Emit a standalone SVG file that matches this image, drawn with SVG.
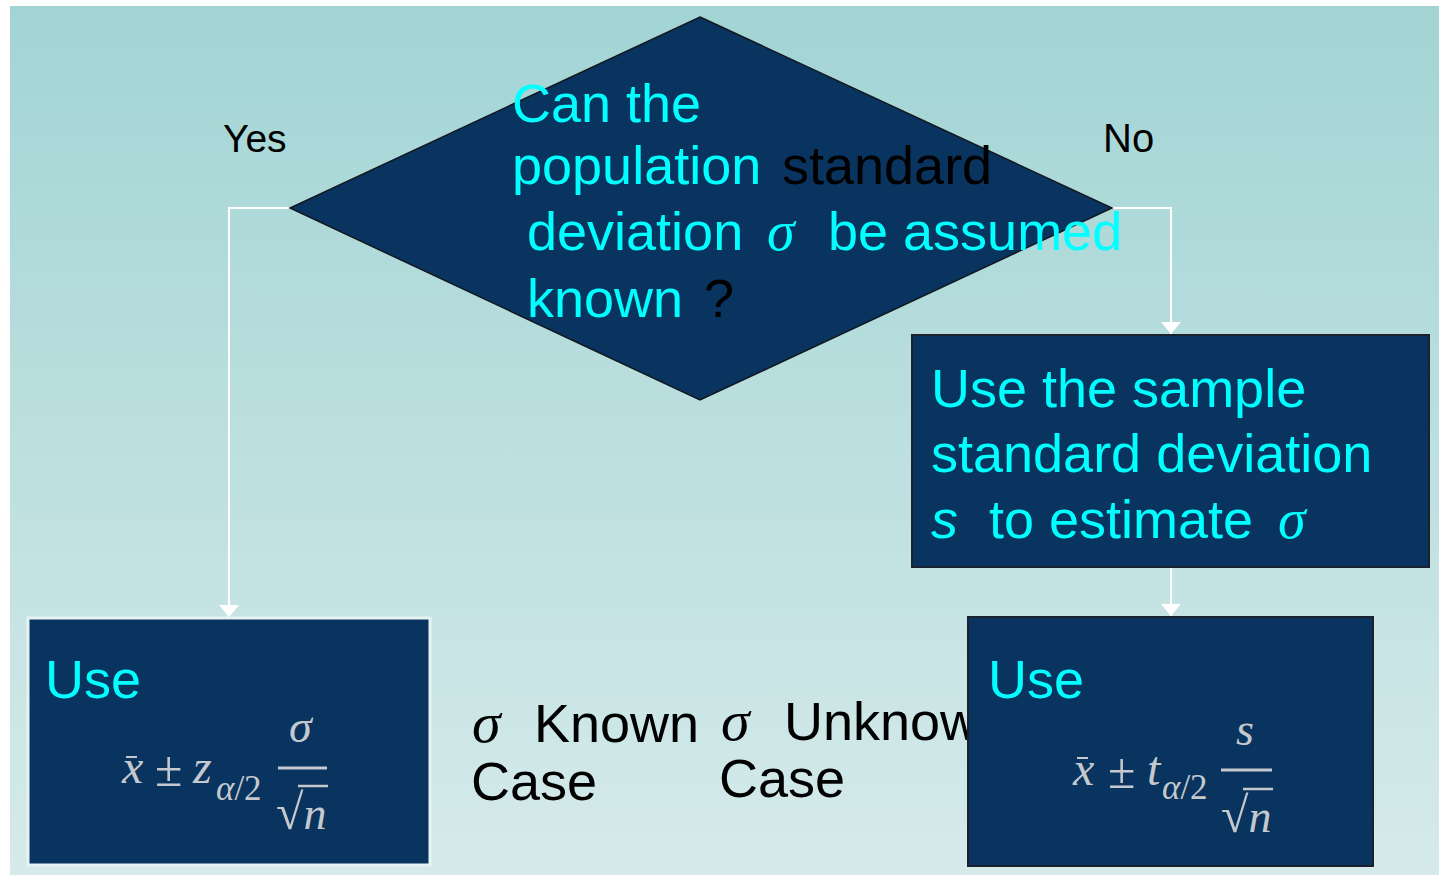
<svg xmlns="http://www.w3.org/2000/svg" width="1439" height="875" viewBox="0 0 1439 875">
  <defs>
    <linearGradient id="bg" x1="0" y1="0" x2="0" y2="1">
      <stop offset="0" stop-color="#a2d4d4"/>
      <stop offset="1" stop-color="#d6eaea"/>
    </linearGradient>
    <marker id="arrow" viewBox="0 0 12 20" refX="12" refY="10" markerWidth="12" markerHeight="20" markerUnits="userSpaceOnUse" orient="auto">
      <path d="M0,0 L12,10 L0,20 Z" fill="#ffffff"/>
    </marker>
    <style>
      .node { fill: #08345f; }
      .dark { stroke: #1a2230; stroke-width: 2; }
      .light { stroke: #e6f3f3; stroke-width: 3; }
      .cyan { fill: #00ffff; font-family: "Liberation Sans", Arial, sans-serif; font-size: 54px; }
      .lbl { fill: #000000; font-family: "Liberation Sans", Arial, sans-serif; }
      .sig { font-family: "Liberation Serif", "Times New Roman", serif; font-style: italic; }
      .math { fill: #c5c9cd; font-family: "Liberation Serif", "Times New Roman", serif; }
      .it { font-style: italic; }
      .conn { fill: none; stroke: #ffffff; stroke-width: 2; }
      .mline { stroke: #c5c9cd; }
    </style>
  </defs>

  <rect x="0" y="0" width="1439" height="875" fill="#ffffff"/>
  <rect x="10" y="6" width="1429" height="869" fill="url(#bg)"/>

  <g id="connectors">
    <polyline class="conn" points="290,208 229,208 229,617" marker-end="url(#arrow)"/>
    <polyline class="conn" points="1112,208 1171,208 1171,334" marker-end="url(#arrow)"/>
    <polyline class="conn" points="1171,567 1171,616" marker-end="url(#arrow)"/>
    <text class="lbl" x="223" y="152" font-size="39">Yes</text>
    <text class="lbl" x="1103" y="152" font-size="40">No</text>
  </g>

  <g id="case-labels">
    <text class="lbl" y="742" font-size="54"><tspan class="sig" x="472" font-size="58">σ</tspan><tspan x="534">Known</tspan></text>
    <text class="lbl" x="471" y="800" font-size="54">Case</text>
    <text class="lbl" y="740" font-size="54"><tspan class="sig" x="721" font-size="58">σ</tspan><tspan x="784">Unknown</tspan></text>
    <text class="lbl" x="719" y="797" font-size="54">Case</text>
  </g>

  <g id="decision">
    <polygon class="node" points="700,17 1112,208 700,400 290,208" stroke="#111820" stroke-width="1.5"/>
    <text class="cyan" x="512" y="122">Can the</text>
    <text class="cyan" y="184"><tspan x="512">population</tspan><tspan x="782" fill="#000000">standard</tspan></text>
    <text class="cyan" y="250"><tspan x="527">deviation</tspan><tspan class="sig" x="767" font-size="56">σ</tspan><tspan x="828">be assumed</tspan></text>
    <text class="cyan" y="317"><tspan x="527">known</tspan><tspan x="704" fill="#000000">?</tspan></text>
  </g>

  <g id="estimate-box">
    <rect class="node dark" x="912" y="335" width="517" height="232"/>
    <text class="cyan" x="931" y="407" font-size="55">Use the sample</text>
    <text class="cyan" x="931" y="472" font-size="55">standard deviation</text>
    <text class="cyan" y="538" font-size="55"><tspan x="931" font-style="italic">s</tspan><tspan x="989">to estimate</tspan><tspan class="sig" x="1278" font-size="56">σ</tspan></text>
  </g>

  <g id="z-box">
    <rect class="node light" x="28" y="618" width="402" height="247"/>
    <text class="cyan" x="45" y="698" font-size="55">Use</text>
    <g class="math">
      <text class="it" x="122" y="783" font-size="48">x</text>
      <line class="mline" x1="126" y1="757" x2="137" y2="757" stroke-width="2"/>
      <text x="155" y="786" font-size="50">±</text>
      <text class="it" x="193" y="783" font-size="48">z</text>
      <text x="216" y="800" font-size="35"><tspan class="it">α</tspan>/2</text>
      <text class="it" x="289" y="742" font-size="46">σ</text>
      <line class="mline" x1="278" y1="768" x2="327" y2="768" stroke-width="3"/>
      <text x="276" y="829" font-size="50">√<tspan class="it" font-size="46">n</tspan></text>
      <line class="mline" x1="298" y1="786" x2="328" y2="786" stroke-width="2.5"/>
    </g>
  </g>

  <g id="t-box">
    <rect class="node dark" x="968" y="617" width="405" height="249"/>
    <text class="cyan" x="988" y="698" font-size="55">Use</text>
    <g class="math">
      <text class="it" x="1073" y="785" font-size="48">x</text>
      <line class="mline" x1="1077" y1="758" x2="1088" y2="758" stroke-width="2"/>
      <text x="1108" y="788" font-size="50">±</text>
      <text class="it" x="1147" y="785" font-size="48">t</text>
      <text x="1162" y="799" font-size="35"><tspan class="it">α</tspan>/2</text>
      <text class="it" x="1236" y="745" font-size="46">s</text>
      <line class="mline" x1="1221" y1="770" x2="1272" y2="770" stroke-width="3"/>
      <text x="1221" y="832" font-size="50">√<tspan class="it" font-size="46">n</tspan></text>
      <line class="mline" x1="1243" y1="789" x2="1273" y2="789" stroke-width="2.5"/>
    </g>
  </g>
</svg>
